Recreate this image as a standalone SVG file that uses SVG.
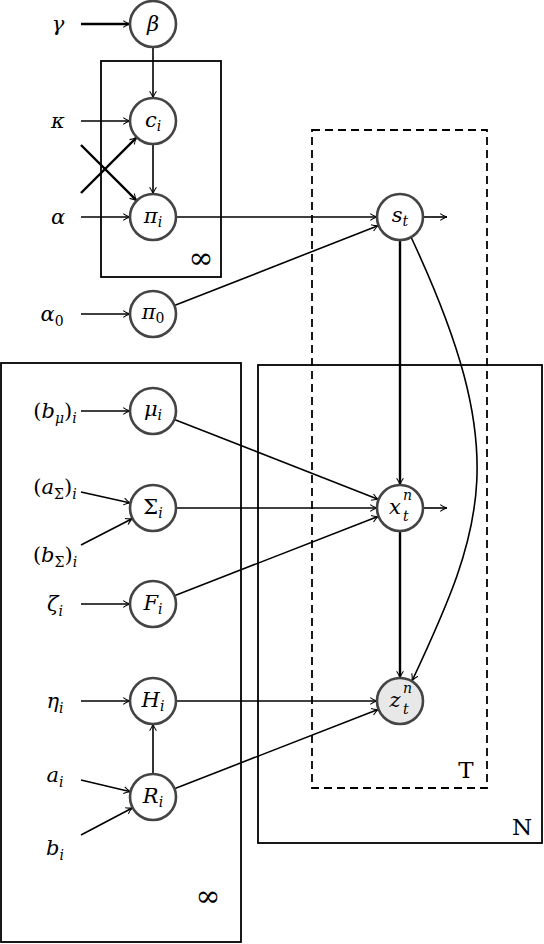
<svg xmlns="http://www.w3.org/2000/svg" width="544" height="944" viewBox="0 0 544 944">
<style>
.bg{fill:#fff}
.node{fill:#fff;stroke:#444;stroke-width:2.6}
.obs{fill:#e8e8e8;stroke:#444;stroke-width:2.6}
.plate{fill:none;stroke:#000;stroke-width:1.8}
.dash{fill:none;stroke:#000;stroke-width:1.8;stroke-dasharray:8,5}
.e{fill:none;stroke:#000;stroke-width:1.6;marker-end:url(#ar)}
.eb{fill:none;stroke:#000;stroke-width:2.4;marker-end:url(#ar)}
.m{font-family:'DejaVu Serif','Liberation Serif',serif;font-style:italic;font-size:21px;fill:#000}
.r{font-family:'DejaVu Serif','Liberation Serif',serif;font-size:23px;fill:#000}
.inf{font-family:'DejaVu Serif',serif;font-size:30px;fill:#000}
.s{font-size:14px}
</style>
<defs>
<marker id="ar" viewBox="0 0 10 10" refX="9.5" refY="5" markerWidth="9" markerHeight="9" markerUnits="userSpaceOnUse" orient="auto">
<path d="M2,1.2 Q6,4.2 9.5,5 Q6,5.8 2,8.8" fill="none" stroke="#000" stroke-width="1.2"/>
</marker>
</defs>
<rect class="bg" x="0" y="0" width="544" height="944"/>

<g id="plates">
<rect class="plate" x="101" y="61" width="120" height="216"/>
<text class="inf" x="201" y="268" text-anchor="middle">∞</text>
<rect class="plate" x="1" y="363" width="240" height="579"/>
<text class="inf" x="208" y="906" text-anchor="middle">∞</text>
<rect class="plate" x="258" y="365" width="284" height="478"/>
<text class="r" x="522" y="835" text-anchor="middle">N</text>
<rect class="dash" x="312" y="130" width="175" height="658"/>
<text class="r" x="466" y="778" text-anchor="middle">T</text>
</g>

<g id="labels">
<text class="m" x="58" y="31" text-anchor="middle">γ</text>
<text class="m" x="58" y="128" text-anchor="middle">κ</text>
<text class="m" x="58" y="224" text-anchor="middle">α</text>
<text class="m" x="52" y="321" text-anchor="middle">α<tspan class="s" font-style="normal" dy="5">0</tspan></text>
<text class="m" x="55" y="418" text-anchor="middle"><tspan font-style="normal">(</tspan>b<tspan class="s" dy="5">μ</tspan><tspan font-style="normal" dy="-5">)</tspan><tspan class="s" dy="5">i</tspan></text>
<text class="m" x="55" y="494" text-anchor="middle"><tspan font-style="normal">(</tspan>a<tspan class="s" font-style="normal" dy="5">Σ</tspan><tspan font-style="normal" dy="-5">)</tspan><tspan class="s" dy="5">i</tspan></text>
<text class="m" x="55" y="562" text-anchor="middle"><tspan font-style="normal">(</tspan>b<tspan class="s" font-style="normal" dy="5">Σ</tspan><tspan font-style="normal" dy="-5">)</tspan><tspan class="s" dy="5">i</tspan></text>
<text class="m" x="55" y="611" text-anchor="middle">ζ<tspan class="s" dy="5">i</tspan></text>
<text class="m" x="55" y="708" text-anchor="middle">η<tspan class="s" dy="5">i</tspan></text>
<text class="m" x="55" y="782" text-anchor="middle">a<tspan class="s" dy="5">i</tspan></text>
<text class="m" x="55" y="855" text-anchor="middle">b<tspan class="s" dy="5">i</tspan></text>
</g>

<g id="connectors">
<line class="eb" x1="81" y1="24" x2="130" y2="24"/>
<line class="e" x1="153" y1="47" x2="153" y2="98"/>
<line class="e" x1="81" y1="121" x2="130" y2="121"/>
<line class="e" x1="153" y1="144" x2="153" y2="194"/>
<line class="eb" x1="81" y1="193" x2="136.7" y2="137.3"/>
<line class="eb" x1="81" y1="145" x2="136.7" y2="200.7"/>
<line class="e" x1="81" y1="217" x2="130" y2="217"/>
<line class="e" x1="81" y1="314" x2="130" y2="314"/>
<line class="e" x1="176" y1="217" x2="377" y2="217"/>
<line class="e" x1="174.4" y1="305.6" x2="378.6" y2="225.4"/>
<line class="e" x1="423" y1="217" x2="447" y2="217"/>
<line class="eb" x1="400" y1="240" x2="400" y2="485"/>
<line class="e" x1="423" y1="508" x2="447" y2="508"/>
<line class="eb" x1="400" y1="531" x2="400" y2="678"/>
<path class="e" d="M411,237 C512,453 485,525 412,681"/>
<line class="e" x1="81" y1="411" x2="130" y2="411"/>
<line class="e" x1="81" y1="492" x2="130.5" y2="503"/>
<line class="e" x1="81" y1="545" x2="132.5" y2="518.5"/>
<line class="e" x1="81" y1="604" x2="130" y2="604"/>
<line class="e" x1="81" y1="701" x2="130" y2="701"/>
<line class="e" x1="81" y1="780" x2="130.6" y2="791.7"/>
<line class="e" x1="81" y1="835" x2="132.7" y2="807.7"/>
<line class="e" x1="153" y1="774" x2="153" y2="724"/>
<line class="e" x1="174.4" y1="419.4" x2="378.6" y2="499.6"/>
<line class="e" x1="176" y1="508" x2="377" y2="508"/>
<line class="e" x1="174.4" y1="595.7" x2="378.6" y2="516.3"/>
<line class="e" x1="176" y1="701" x2="377" y2="701"/>
<line class="e" x1="174.4" y1="788.7" x2="378.6" y2="709.3"/>
</g>

<g id="beta"><circle class="node" cx="153" cy="24" r="23"/><text class="m" x="153" y="31" text-anchor="middle">β</text></g>
<g id="c_i"><circle class="node" cx="153" cy="121" r="23"/><text class="m" x="153" y="127" text-anchor="middle">c<tspan class="s" dy="4">i</tspan></text></g>
<g id="pi_i"><circle class="node" cx="153" cy="217" r="23"/><text class="m" x="153" y="223" text-anchor="middle">π<tspan class="s" dy="4">i</tspan></text></g>
<g id="pi_0"><circle class="node" cx="153" cy="314" r="23"/><text class="m" x="153" y="319" text-anchor="middle">π<tspan class="s" font-style="normal" dy="4">0</tspan></text></g>
<g id="s_t"><circle class="node" cx="400" cy="217" r="23"/><text class="m" x="400" y="222" text-anchor="middle">s<tspan class="s" dy="4">t</tspan></text></g>
<g id="x_t"><circle class="node" cx="400" cy="508" r="23"/><text class="m" x="395" y="514" text-anchor="middle">x</text><text class="m s" x="403" y="500">n</text><text class="m s" x="403" y="521">t</text></g>
<g id="z_t"><circle class="obs" cx="400" cy="701" r="23"/><text class="m" x="395" y="707" text-anchor="middle">z</text><text class="m s" x="403" y="693">n</text><text class="m s" x="403" y="714">t</text></g>
<g id="mu_i"><circle class="node" cx="153" cy="411" r="23"/><text class="m" x="153" y="416" text-anchor="middle">μ<tspan class="s" dy="4">i</tspan></text></g>
<g id="Sigma_i"><circle class="node" cx="153" cy="508" r="23"/><text class="m" x="153" y="514" text-anchor="middle"><tspan font-style="normal">Σ</tspan><tspan class="s" dy="4">i</tspan></text></g>
<g id="F_i"><circle class="node" cx="153" cy="604" r="23"/><text class="m" x="153" y="610" text-anchor="middle">F<tspan class="s" dy="4">i</tspan></text></g>
<g id="H_i"><circle class="node" cx="153" cy="701" r="23"/><text class="m" x="153" y="707" text-anchor="middle">H<tspan class="s" dy="4">i</tspan></text></g>
<g id="R_i"><circle class="node" cx="153" cy="797" r="23"/><text class="m" x="153" y="803" text-anchor="middle">R<tspan class="s" dy="4">i</tspan></text></g>
</svg>
